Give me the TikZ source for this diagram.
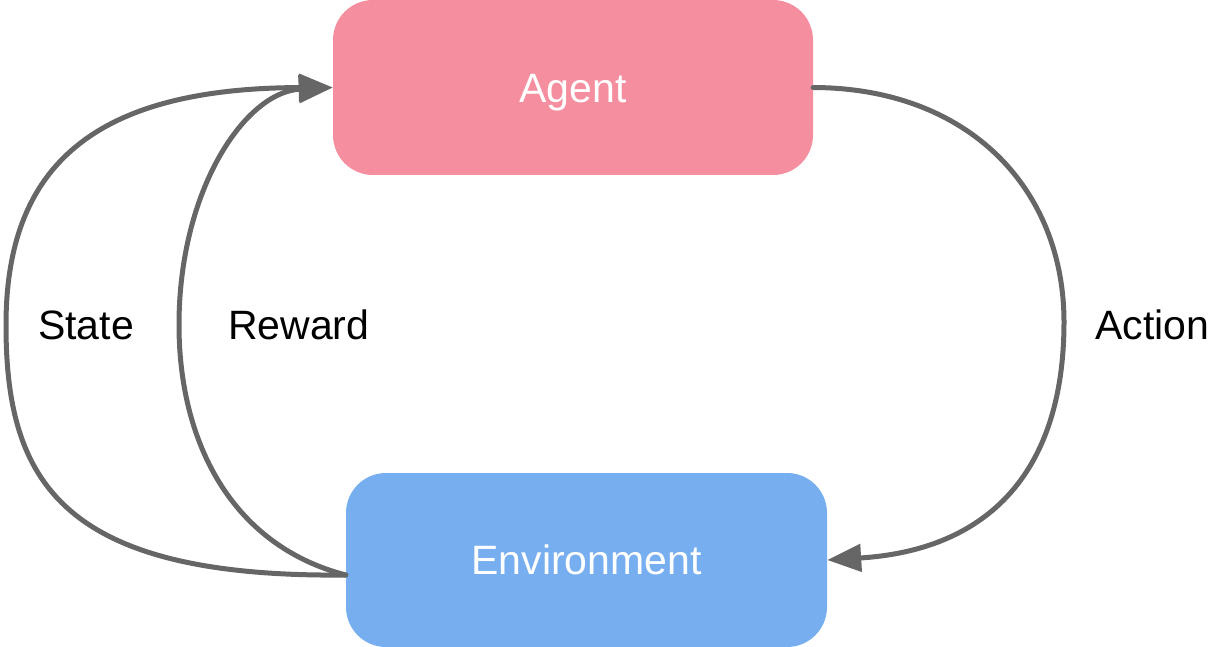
\documentclass[tikz,border=0pt]{standalone}
\usepackage{fontspec}
\setmainfont{Liberation Sans}
\usetikzlibrary{arrows.meta}
\definecolor{agentpink}{HTML}{F58F9F}
\definecolor{envblue}{HTML}{77AEF0}
\definecolor{edgegray}{HTML}{666666}
\tikzset{
  box/.style={rectangle, rounded corners=40pt, inner sep=0pt,
    minimum width=480pt, minimum height=175pt,
    text height=29.4pt, text depth=0pt, text=white,
    font=\fontsize{41}{49}\selectfont},
  flow/.style={draw=edgegray, line width=5pt, line cap=round,
    -{Triangle[length=34pt,width=27pt]}},
  lbl/.style={anchor=base west, inner sep=0pt, text=black,
    font=\fontsize{41}{49}\selectfont}
}
\begin{document}
\begin{tikzpicture}[x=1pt,y=-1pt]
\useasboundingbox (0,0) rectangle (1227,647);
\node[box, fill=agentpink] (agent) at (573,87.5) {Agent};
\node[box, fill=envblue, minimum width=481pt, minimum height=174pt] (env) at (586.5,560) {Environment};
\node[lbl] (state) at (38,339) {State};
\node[lbl] (reward) at (228,339) {Reward};
\node[lbl] (action) at (1095,339) {Action};
\draw[flow] ([yshift=-15pt]env.west) .. controls (60,578) and (6,480) .. (6,325)
  .. controls (6,165) and (95,88) .. (agent.west);
\draw[flow] ([yshift=-15pt]env.west) .. controls (230,545) and (179,440) .. (179,325)
  .. controls (179,190) and (245,92) .. (agent.west);
\draw[flow] (agent.east) .. controls (970,88) and (1064,190) .. (1064,322)
  .. controls (1064,470) and (990,550) .. (env.east);
\end{tikzpicture}
\end{document}
